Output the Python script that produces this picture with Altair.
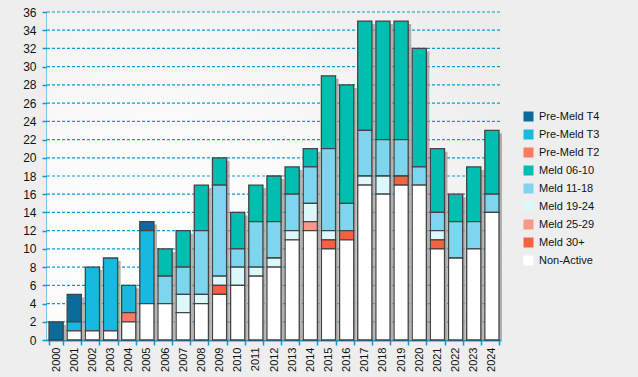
import altair as alt
import pandas as pd

years = [str(y) for y in range(2000, 2025)]
y_ticks = list(range(0, 37, 2))

series_names = ["Pre-Meld T4", "Pre-Meld T3", "Pre-Meld T2", "Meld 06-10", "Meld 11-18",
                "Meld 19-24", "Meld 25-29", "Meld 30+", "Non-Active"]
series_colors = ["#0b6b9b", "#17b9e0", "#fb7a64", "#00bfb0", "#7dd6ee",
                 "#dcf8fb", "#f9988a", "#f9603f", "#ffffff"]

#                2000..2024
non_active = [0, 1, 1, 1, 2, 4, 4, 3, 4, 5, 6, 7, 8, 11, 12, 10, 11, 17, 16, 17, 17, 10, 9, 10, 14]
meld_30 =    [0, 0, 0, 0, 0, 0, 0, 0, 0, 1, 0, 0, 0, 0, 0, 1, 1, 0, 0, 1, 0, 1, 0, 0, 0]
meld_25 =    [0, 0, 0, 0, 0, 0, 0, 0, 0, 0, 0, 0, 0, 0, 1, 0, 0, 0, 0, 0, 0, 0, 0, 0, 0]
meld_19 =    [0, 0, 0, 0, 0, 0, 0, 2, 1, 1, 2, 1, 1, 1, 2, 1, 0, 1, 2, 0, 0, 1, 0, 0, 0]
meld_11 =    [0, 0, 0, 0, 0, 0, 3, 3, 7, 10, 2, 5, 4, 4, 4, 9, 3, 5, 4, 4, 2, 2, 4, 3, 2]
meld_06 =    [0, 0, 0, 0, 0, 0, 3, 4, 5, 3, 4, 4, 5, 3, 2, 8, 13, 12, 13, 13, 13, 7, 3, 6, 7]
pre_t2 =     [0, 0, 0, 0, 1, 0, 0, 0, 0, 0, 0, 0, 0, 0, 0, 0, 0, 0, 0, 0, 0, 0, 0, 0, 0]
pre_t3 =     [0, 1, 7, 8, 3, 8, 0, 0, 0, 0, 0, 0, 0, 0, 0, 0, 0, 0, 0, 0, 0, 0, 0, 0, 0]
pre_t4 =     [2, 3, 0, 0, 0, 1, 0, 0, 0, 0, 0, 0, 0, 0, 0, 0, 0, 0, 0, 0, 0, 0, 0, 0, 0]

series_values = [pre_t4, pre_t3, pre_t2, meld_06, meld_11, meld_19, meld_25, meld_30, non_active]

rows = []
for idx, (name, vals) in enumerate(zip(series_names, series_values)):
    for y, v in zip(years, vals):
        if v > 0:
            rows.append({"year": y, "series": name, "idx": idx, "value": v})
df = pd.DataFrame(rows)
grid_df = pd.DataFrame({"v": y_ticks})

W, H = 454, 328
BLUE = "#0a9ad8"
FONT = "Liberation Sans"

x_enc = alt.X("year:N", sort=years,
              scale=alt.Scale(paddingInner=0.22, paddingOuter=0.11),
              axis=alt.Axis(title=None, labelAngle=-90, labelFontSize=11, labelFont=FONT,
                            labelColor="#111111", labelPadding=2, tickBand="extent",
                            tickColor=BLUE, tickSize=5, tickWidth=1.5,
                            domainColor=BLUE, domainWidth=2))

y_scale = alt.Scale(domain=[0, 36], nice=False)
y_axis = alt.Axis(title=None, values=y_ticks, labelFontSize=12,
                  labelFont=FONT, labelColor="#111111", labelPadding=6,
                  tickColor=BLUE, tickSize=5, tickWidth=1.5,
                  domainColor=BLUE, domainWidth=2, grid=False)

background = alt.Chart(df).mark_rect(
    fill={"gradient": "radial",
          "x1": 0.25, "y1": 0.8, "r1": 0,
          "x2": 0.25, "y2": 0.8, "r2": 0.95,
          "stops": [{"offset": 0, "color": "#ffffff"},
                    {"offset": 0.45, "color": "#fafafa"},
                    {"offset": 1, "color": "#ececec"}]},
    stroke=None
).encode(x=alt.value(0), x2=alt.value(W), y=alt.value(0), y2=alt.value(H))

grid = alt.Chart(grid_df).mark_rule(color=BLUE, strokeDash=[3, 2], strokeWidth=1.2).encode(
    y=alt.Y("v:Q", scale=y_scale, axis=y_axis),
    x=alt.value(0), x2=alt.value(W),
)

shadow = alt.Chart(df).mark_bar(
    color="#9a9a9a", opacity=0.75, xOffset=3, x2Offset=2.5, yOffset=3, y2Offset=0
).encode(
    x=x_enc,
    y=alt.Y("sum(value):Q", scale=y_scale, axis=y_axis),
)

bars = alt.Chart(df).mark_bar(stroke="#434343", strokeWidth=1.3).encode(
    x=x_enc,
    y=alt.Y("value:Q", stack="zero", scale=y_scale, axis=y_axis),
    color=alt.Color("series:N",
                    scale=alt.Scale(domain=series_names, range=series_colors),
                    legend=alt.Legend(title=None, orient="none", legendX=476, legendY=99,
                                      symbolType="square", symbolSize=100,
                                      symbolStrokeWidth=0, labelFontSize=11,
                                      labelFont=FONT, labelColor="#111111",
                                      rowPadding=6, labelOffset=5)),
    order=alt.Order("idx:Q", sort="descending"),
)

chart = alt.layer(background, grid, shadow, bars).properties(
    width=W, height=H,
    autosize=alt.AutoSizeParams(type="none"),
    padding={"left": 47, "top": 12, "right": 638 - 47 - W, "bottom": 377 - 12 - H},
    background="#eeeeee",
).configure_view(stroke=None)

chart.save("out.html", embed_options={"renderer": "svg", "actions": False})
